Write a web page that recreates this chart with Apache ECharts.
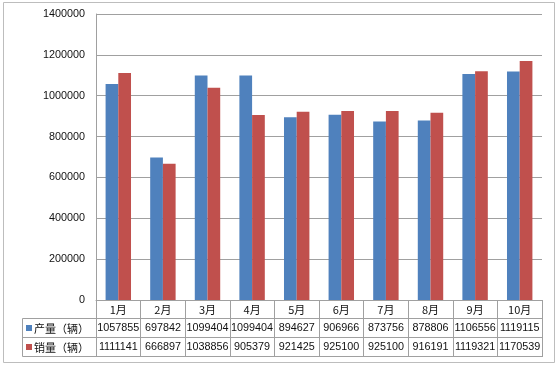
<!DOCTYPE html>
<html><head><meta charset="utf-8">
<script src="https://cdn.jsdelivr.net/npm/echarts@6/dist/echarts.min.js"></script>
<style>html,body{margin:0;padding:0;background:#fff}#c{width:558px;height:367px}</style>
</head><body><div id="c"></div>
<script>
const months = ['1月','2月','3月','4月','5月','6月','7月','8月','9月','10月'];
const production = [1057855,697842,1099404,1099404,894627,906966,873756,878806,1106556,1119115];
const sales = [1111141,666897,1038856,905379,921425,925100,925100,916191,1119321,1170539];
const seriesNames = ['产量（辆）','销量（辆）'];
const seriesColors = ['#4F81BD','#C0504D'];
const yTicks = {min:0, max:1400000, interval:200000};

const GL = 96, GR = 16, GT = 14, GB = 67;
const ROW = 19;
const lineColor = '#A0A0A0';
const numFont = 'Liberation Sans, Noto Sans CJK SC, sans-serif';
const cjkFont = 'Noto Sans CJK SC, sans-serif';

const chart = echarts.init(document.getElementById('c'), null, {renderer:'canvas'});

function extraAxis(off){
  return {type:'category', data:months, position:'bottom', offset:off, gridIndex:0,
    axisLine:{show:true,lineStyle:{color:lineColor,width:1}},
    axisTick:{show:false}, axisLabel:{show:false}, splitLine:{show:false}};
}

const H = 367;
const tableTop = H - GB;
chart.setOption({
  animation:false,
  backgroundColor:'#fff',
  grid:{left:GL, right:GR, top:GT, bottom:GB, containLabel:false},
  xAxis:[
    {type:'category', data:months, gridIndex:0,
     axisLine:{show:true,lineStyle:{color:lineColor,width:1}},
     axisTick:{show:true, inside:false, length:3*ROW, alignWithLabel:false, lineStyle:{color:lineColor,width:1}},
     axisLabel:{margin:0, interval:0,
       formatter:(v,i)=>`{m|${v}}\n{v|${production[i]}}\n{v|${sales[i]}}`,
       rich:{
         m:{fontFamily:cjkFont,fontSize:11,lineHeight:ROW,color:'#111',align:'center',verticalAlign:'middle'},
         v:{fontFamily:numFont,fontSize:10.8,lineHeight:ROW,color:'#111',align:'center',verticalAlign:'middle'}
       }},
     splitLine:{show:false}},
    extraAxis(ROW-1), extraAxis(2*ROW-1), extraAxis(3*ROW-1)
  ],
  yAxis:{type:'value', min:yTicks.min, max:yTicks.max, interval:yTicks.interval,
    axisLine:{show:true,lineStyle:{color:lineColor}}, axisTick:{show:false},
    axisLabel:{margin:11, fontFamily:numFont, fontSize:10.8, color:'#111', formatter:v=>String(v)},
    splitLine:{show:true,lineStyle:{color:lineColor,width:1}}},
  series:[
    {name:seriesNames[0], type:'bar', data:production, barCategoryGap:'43%', barGap:'0%',
     itemStyle:{color:seriesColors[0]}},
    {name:seriesNames[1], type:'bar', data:sales, barCategoryGap:'43%', barGap:'0%',
     itemStyle:{color:seriesColors[1]}}
  ],
  graphic:[
    {type:'rect', shape:{x:3.5,y:2.5,width:551,height:360}, style:{fill:'none',stroke:'#BDBDBD',lineWidth:1}, silent:true},
    {type:'rect', shape:{x:22.5,y:tableTop+ROW-0.5,width:GL-22,height:2*ROW}, style:{fill:'none',stroke:lineColor,lineWidth:1}, silent:true},
    {type:'line', shape:{x1:22.5,y1:tableTop+2*ROW-0.5,x2:GL,y2:tableTop+2*ROW-0.5}, style:{stroke:lineColor,lineWidth:1}, silent:true},
    {type:'rect', shape:{x:26,y:tableTop+ROW+6,width:6,height:6}, style:{fill:seriesColors[0]}, silent:true},
    {type:'rect', shape:{x:26,y:tableTop+2*ROW+6,width:6,height:6}, style:{fill:seriesColors[1]}, silent:true},
    {type:'text', x:34, y:tableTop+ROW+ROW/2, style:{text:seriesNames[0], font:'11px '+cjkFont, fill:'#111', textVerticalAlign:'middle'}, silent:true},
    {type:'text', x:34, y:tableTop+2*ROW+ROW/2, style:{text:seriesNames[1], font:'11px '+cjkFont, fill:'#111', textVerticalAlign:'middle'}, silent:true}
  ]
});
</script></body></html>
